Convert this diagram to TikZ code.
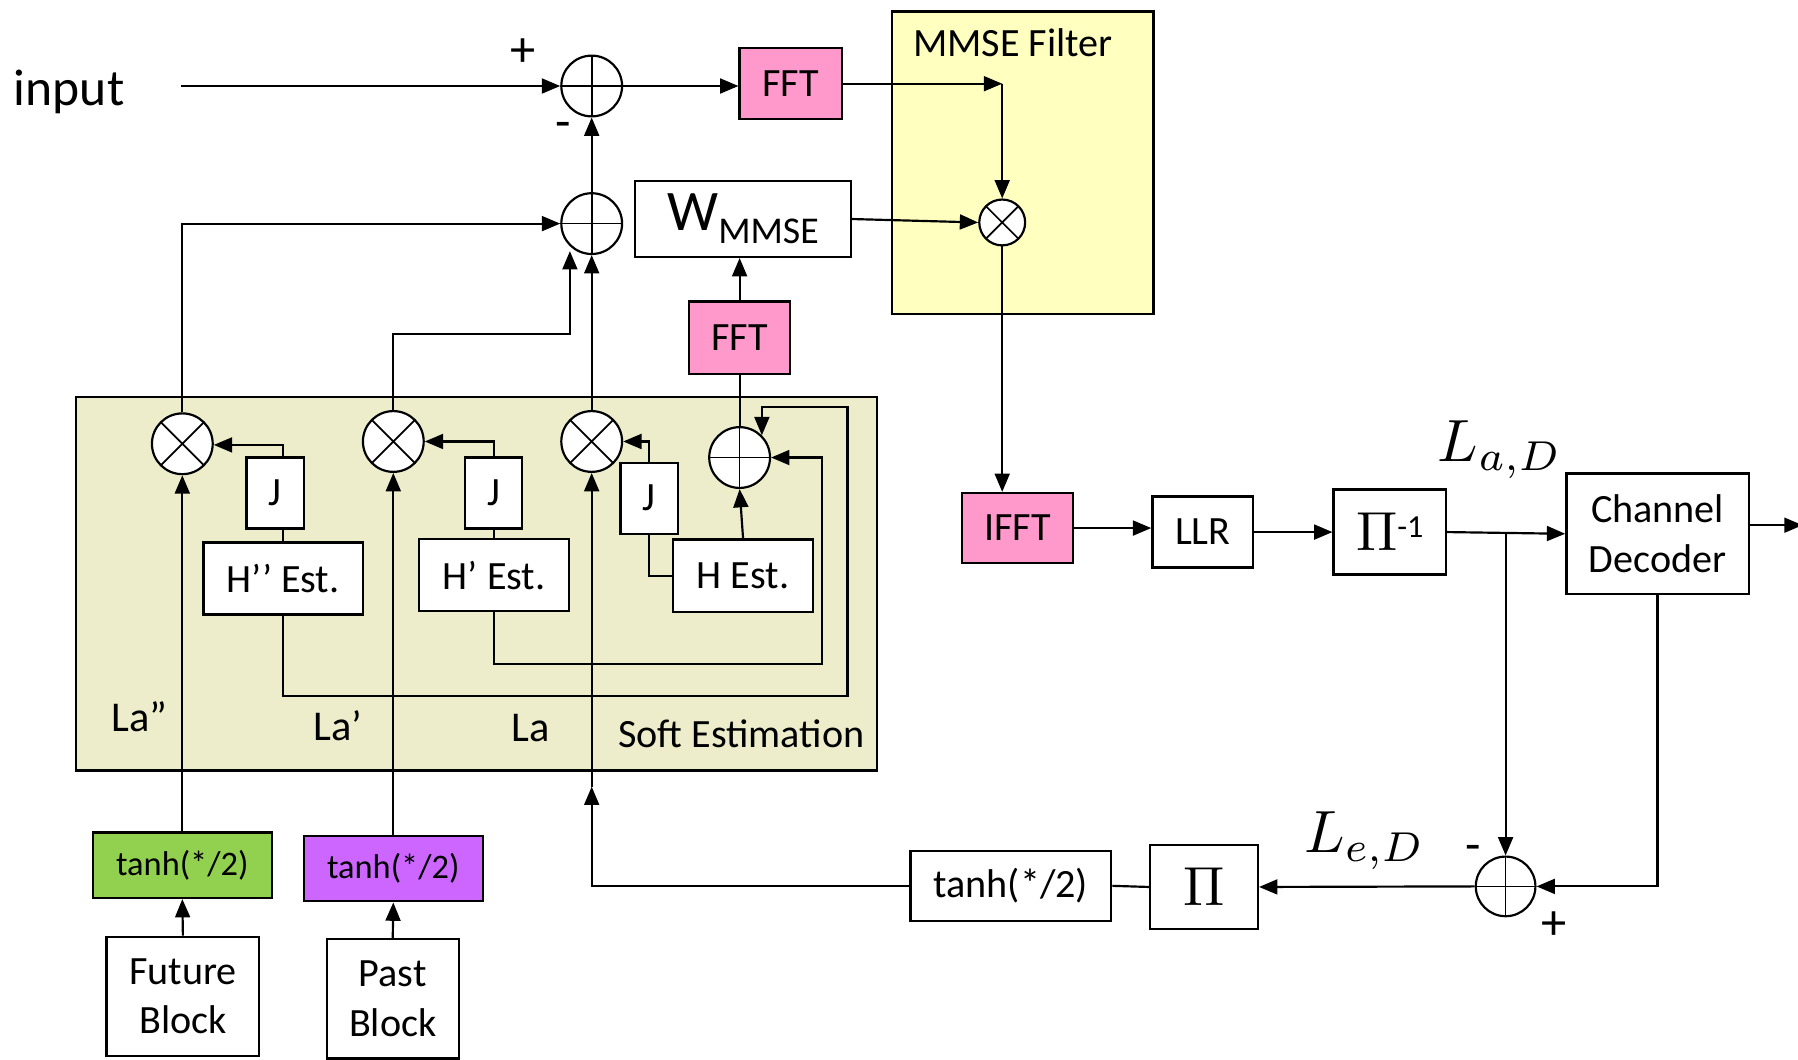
\documentclass[tikz,border=0pt]{standalone}
\usepackage{graphicx}
\usepackage[no-math]{fontspec}
\setmainfont{Carlito}
\usetikzlibrary{arrows.meta,calc}
\definecolor{pinkfft}{HTML}{FF99CC}
\definecolor{mmseY}{HTML}{FFFFC0}
\definecolor{softY}{HTML}{EEEDCB}
\definecolor{tgreen}{HTML}{92D050}
\definecolor{tpurple}{HTML}{CC66FF}
\newcommand{\bigmath}[2]{{\fontsize{10}{12}\selectfont\scalebox{#1}{$#2$}}}
\begin{document}
\begin{tikzpicture}[x=1pt,y=-1pt,
  every node/.style={font=\fontsize{35}{43}\selectfont},
  blk/.style={draw, line width=2pt, fill=white, inner sep=0pt, align=center},
  ln/.style={line width=1.9pt},
  arr/.style={line width=1.9pt, -{Triangle[length=16pt,width=13pt]}},
  sgn/.style={inner sep=0pt, font=\fontsize{44}{50}\selectfont},
  mult/.style={circle, draw, line width=1.9pt, fill=white, inner sep=0pt, minimum size=#1,
    path picture={\draw[line width=1.5pt] (path picture bounding box.north west) -- (path picture bounding box.south east)
      (path picture bounding box.north east) -- (path picture bounding box.south west);}},
  mult/.default=53pt,
  summ/.style={circle, draw, line width=1.9pt, fill=white, inner sep=0pt, minimum size=#1,
    path picture={\draw[line width=1.5pt] (path picture bounding box.north) -- (path picture bounding box.south)
      (path picture bounding box.west) -- (path picture bounding box.east);}},
  summ/.default=53pt,
  lbl/.style={inner sep=0pt, anchor=base west}
]
\fill[white] (0,0) rectangle (1568,924);
\useasboundingbox (0,0) rectangle (1568,924);

% background boxes
\node[draw, line width=2pt, fill=mmseY, minimum width=228pt, minimum height=264pt, inner sep=0pt] (mmse) at (892,142) {};
\node[lbl] (mmsel) at (796,49) {MMSE Filter};
\node[draw, line width=2pt, fill=softY, minimum width=699pt, minimum height=326pt, inner sep=0pt] (soft) at (415.5,509) {};
\node[lbl] (softl) at (539,652) {Soft Estimation};

% top row
\node[lbl, font=\fontsize{45}{52}\selectfont] (inputl) at (12,92) {input};
\coordinate (inp) at (158,75);
\node[summ] (s1) at (516,75) {};
\node[sgn] (plus1) at (456,46) {+};
\node[sgn] (minus1) at (491,114) {-};
\node[blk, fill=pinkfft, minimum width=89pt, minimum height=62pt] (fft1) at (689.5,73) {FFT};
\coordinate (c1) at (874,73);
\node[mult=40pt] (m3) at (874,194) {};
\node[blk, minimum width=188pt, minimum height=66pt] (w) at (648,191) {{\fontsize{50}{50}\selectfont W}\raisebox{-11pt}{\fontsize{33}{33}\selectfont MMSE}};
\node[summ] (s2) at (516,195) {};
\node[blk, fill=pinkfft, minimum width=88pt, minimum height=63pt] (fft2) at (645,294.5) {FFT};

% right chain
\node[blk, fill=pinkfft, minimum width=97pt, minimum height=61pt] (ifft) at (887.5,460.5) {IFFT};
\node[blk, minimum width=88pt, minimum height=62pt] (llr) at (1049,464) {LLR};
\node[blk, minimum width=98pt, minimum height=74pt] (pinv) at (1212,464) {\bigmath{4.8}{\Pi}\raisebox{12pt}{\fontsize{28}{28}\selectfont -1}};
\node[blk, minimum width=159pt, minimum height=105pt] (dec) at (1445.5,465.5) {Channel\\Decoder};
\node[inner sep=0pt] (lad) at (1308,392) {\bigmath{5.2}{L_{a,D}}};
\coordinate (br) at (1313,464);
\coordinate (out) at (1572,458);
\node[summ=52pt] (s3) at (1313,773) {};
\node[sgn] (minus3) at (1285,744) {-};
\node[sgn] (plus3) at (1355,807) {+};
\node[inner sep=0pt] (led) at (1190,733) {\bigmath{5.2}{L_{e,D}}};
\node[blk, minimum width=94pt, minimum height=73pt] (pi) at (1050,773.5) {\bigmath{4.8}{\Pi}};
\node[blk, minimum width=175pt, minimum height=61pt] (tanh3) at (881.5,772.5) {tanh(*/2)};
\coordinate (b3) at (516,686);

% soft estimation internals
\node[mult] (ma2) at (159,387) {};
\node[mult] (ma1) at (343,385) {};
\node[mult] (ma0) at (516,385) {};
\node[summ] (s4) at (645,399) {};
\node[blk, minimum width=50pt, minimum height=62pt] (j1) at (240,430) {J};
\node[blk, minimum width=50pt, minimum height=62pt] (j2) at (430.5,430) {J};
\node[blk, minimum width=50pt, minimum height=62pt] (j3) at (566,434.5) {J};
\node[blk, minimum width=139pt, minimum height=63pt] (h2) at (247,504.5) {H’’ Est.};
\node[blk, minimum width=131pt, minimum height=63pt] (h1) at (431,501.5) {H’ Est.};
\node[blk, minimum width=122pt, minimum height=63pt] (h0) at (648,502) {H Est.};
\node[lbl, font=\fontsize{37}{44}\selectfont] (la2) at (97,638) {La”};
\node[lbl, font=\fontsize{37}{44}\selectfont] (la1) at (273,646) {La’};
\node[lbl, font=\fontsize{37}{44}\selectfont] (la0) at (446,647) {La};

% bottom left
\node[blk, fill=tgreen, minimum width=156pt, minimum height=57pt, font=\fontsize{30}{36}\selectfont] (t1) at (159,754.5) {tanh(*/2)};
\node[blk, fill=tpurple, minimum width=156pt, minimum height=57pt, font=\fontsize{30}{36}\selectfont] (t2) at (343,757.5) {tanh(*/2)};
\node[blk, minimum width=133pt, minimum height=104pt] (fut) at (159.5,869) {Future\\Block};
\node[blk, minimum width=115pt, minimum height=104pt] (past) at (342.5,871) {Past\\Block};

\coordinate (t4) at (739,355);
\coordinate (j1top) at (247,388);

% connectors top
\draw[arr] (inp) -- (s1.west);
\draw[arr] (s1.east) -- (s1.east -| fft1.west);
\draw[arr] (fft1.east |- c1) -- (c1);
\draw[arr] (c1) -- (m3.north);
\draw[arr] (w.east) -- (m3.west);
\draw[arr] (m3.south) -- (m3.south |- ifft.north);
\draw[arr] (s2.north) -- (s1.south);
\draw[arr] (fft2.north) -- (fft2.north |- w.south);
\draw[ln] (s4.north) -- (fft2.south);

% right chain
\draw[arr] (ifft.east) -- (ifft.east -| llr.west);
\draw[arr] (llr.east) -- (pinv.west);
\draw[arr] (pinv.east) -- (dec.west);
\draw[arr] (dec.east |- out) -- (out);
\draw[arr] (br) -- (s3.north);
\draw[arr] (dec.south) |- (s3.east);
\draw[arr] (s3.west) -- (pi.east);
\draw[ln] (pi.west) -- (tanh3.east);
\draw[arr] (tanh3.west) -| (b3);
\draw[arr] (b3) -- (ma0.south);

% soft internals
\draw[arr] (ma2.north) |- (s2.west);
\draw[arr] (ma1.north) -- (343,291) -- (497,291) -- (497,219);
\draw[arr] (ma0.north) -- (s2.south);
\draw[ln] (h2.north) -- (h2.north |- j1.south);
\draw[arr] (h2.north |- j1.north) -- (j1top) -- (ma2.east |- j1top);
\draw[ln] (h1.north) -- (h1.north |- j2.south);
\draw[arr] (j2.north) |- (ma1.east);
\draw[arr] (j3.north) |- (ma0.east);
\draw[ln] (j3.south) |- (h0.west);
\draw[arr] (h0.north) -- (s4.south);
\draw[arr] (h1.south) -- (431,579) -- (717,579) |- (s4.east);
\draw[arr] (h2.south) -- (247,607) -- (739,607) -- (t4) -- (s4.north east |- t4) -- (s4.north east);

% bottom left
\draw[arr] (t1.north) -- (ma2.south);
\draw[arr] (t2.north) -- (ma1.south);
\draw[arr] (fut.north) -- (t1.south);
\draw[arr] (past.north) -- (t2.south);
\end{tikzpicture}
\end{document}
